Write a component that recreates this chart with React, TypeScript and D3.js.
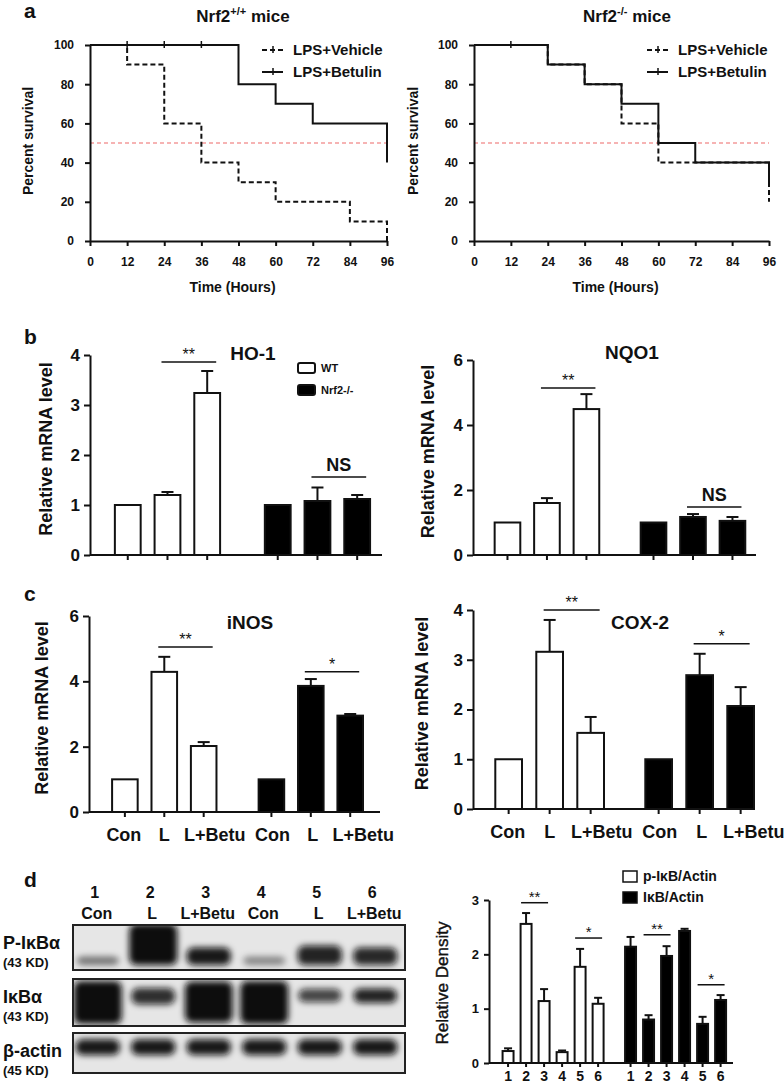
import React, { useEffect, useRef } from 'react';
import * as d3 from 'd3';

const FONT = 'Arial, "Liberation Sans", Helvetica, sans-serif';

// ---- panel a: Kaplan-Meier steps [hour, % survival]
const wtVehicle = [[0, 100], [12, 90], [24, 60], [36, 40], [48, 30], [60, 20], [84, 10], [96, 10], [96, 0]];
const wtBetulin = [[0, 100], [48, 80], [60, 70], [72, 60], [96, 60], [96, 40]];
const koVehicle = [[0, 100], [24, 90], [36, 80], [48, 60], [60, 40], [96, 40], [96, 20]];
const koBetulin = [[0, 100], [24, 90], [36, 80], [48, 70], [60, 50], [72, 40], [96, 40], [96, 28]];
const wtCensor = [12, 24, 36];
const koCensor = [12];
const hourTicks = [0, 12, 24, 36, 48, 60, 72, 84, 96];
const survivalTicks = [0, 20, 40, 60, 80, 100];

// ---- panels b, c: relative mRNA level
const genotypes = ['WT', 'Nrf2-/-'];
const conditions = ['Con', 'L', 'L+Betu'];

const hoWT = [1.0, 1.2, 3.24];
const hoWTErr = [0, 0.06, 0.44];
const hoKO = [1.0, 1.08, 1.12];
const hoKOErr = [0, 0.27, 0.08];

const nqWT = [1.0, 1.6, 4.49];
const nqWTErr = [0, 0.15, 0.46];
const nqKO = [1.0, 1.17, 1.05];
const nqKOErr = [0, 0.09, 0.12];

const inosWT = [1.0, 4.29, 2.02];
const inosWTErr = [0, 0.46, 0.12];
const inosKO = [1.0, 3.86, 2.95];
const inosKOErr = [0, 0.21, 0.05];

const coxWT = [1.0, 3.16, 1.53];
const coxWTErr = [0, 0.64, 0.32];
const coxKO = [1.0, 2.69, 2.07];
const coxKOErr = [0, 0.43, 0.38];

const hoSig = [
  { g: 0, from: 1, to: 2, level: 3.86, label: '**' },
  { g: 1, from: 1, to: 2, level: 1.56, label: 'NS' },
];
const nqSig = [
  { g: 0, from: 1, to: 2, level: 5.14, label: '**' },
  { g: 1, from: 1, to: 2, level: 1.48, label: 'NS' },
];
const inosSig = [
  { g: 0, from: 1, to: 2, level: 5.05, label: '**' },
  { g: 1, from: 1, to: 2, level: 4.29, label: '*' },
];
const coxSig = [
  { g: 0, from: 1, to: 2, level: 4.0, label: '**' },
  { g: 1, from: 1, to: 2, level: 3.32, label: '*' },
];

// ---- panel d: western blot + densitometry
const lanes = ['1', '2', '3', '4', '5', '6'];
const laneNames = ['Con', 'L', 'L+Betu', 'Con', 'L', 'L+Betu'];
const pIkbIntensity = [0.5, 1.0, 0.95, 0.42, 0.9, 0.88];
const pIkbSpread = [0.1, 1.0, 0.35, 0.1, 0.4, 0.35];
const ikbIntensity = [1.0, 0.85, 1.0, 1.0, 0.75, 0.9];
const ikbSpread = [1.0, 0.3, 0.95, 1.0, 0.22, 0.25];
const actinIntensity = [0.95, 0.95, 0.95, 0.95, 0.95, 0.95];
const actinSpread = [0.35, 0.35, 0.35, 0.35, 0.35, 0.35];

const densGroups = ['p-IκB/Actin', 'IκB/Actin'];
const pIkbDensity = [0.22, 2.56, 1.14, 0.2, 1.77, 1.09];
const pIkbDensityErr = [0.05, 0.2, 0.22, 0.03, 0.33, 0.11];
const ikbDensity = [2.14, 0.8, 1.97, 2.43, 0.72, 1.16];
const ikbDensityErr = [0.18, 0.08, 0.18, 0.04, 0.13, 0.09];
const densSig = [
  { g: 0, from: 1, to: 2, level: 2.95, label: '**' },
  { g: 0, from: 4, to: 5, level: 2.3, label: '*' },
  { g: 1, from: 1, to: 2, level: 2.36, label: '**' },
  { g: 1, from: 4, to: 5, level: 1.44, label: '*' },
];

const styleAxis = (g, size) => {
  g.attr('font-family', FONT).attr('font-size', size).attr('font-weight', 'bold');
  g.select('.domain').attr('stroke', '#111').attr('stroke-width', 2);
  g.selectAll('.tick line').attr('stroke', '#111').attr('stroke-width', 2);
  g.selectAll('.tick text').attr('fill', '#111');
};

function drawSurvival(svg, p) {
  const x = d3.scaleLinear().domain([0, 96]).range([p.left, p.right]);
  const y = d3.scaleLinear().domain([0, 100]).range([p.bottom, p.top]);
  const g = svg.append('g');

  g.append('line')
    .attr('x1', x(0)).attr('x2', x(96))
    .attr('y1', y(50)).attr('y2', y(50))
    .attr('stroke', '#f39a9a').attr('stroke-width', 1.5)
    .attr('stroke-dasharray', '4,3');

  const line = d3.line().x(d => x(d[0])).y(d => y(d[1])).curve(d3.curveStepAfter);
  g.append('path').datum(p.betulin).attr('d', line)
    .attr('fill', 'none').attr('stroke', '#111').attr('stroke-width', 2);
  g.append('path').datum(p.vehicle).attr('d', line)
    .attr('fill', 'none').attr('stroke', '#111').attr('stroke-width', 2)
    .attr('stroke-dasharray', '5,3');

  g.selectAll('line.censor').data(p.censor).enter().append('line')
    .attr('x1', d => x(d)).attr('x2', d => x(d))
    .attr('y1', y(100) - 4).attr('y2', y(100) + 3)
    .attr('stroke', '#111').attr('stroke-width', 1.5);

  const ax = g.append('g').attr('transform', `translate(0,${p.bottom})`)
    .call(d3.axisBottom(x).tickValues(hourTicks).tickSize(5).tickSizeOuter(0).tickPadding(11));
  styleAxis(ax, 12);
  const ay = g.append('g').attr('transform', `translate(${p.left},0)`)
    .call(d3.axisLeft(y).tickValues(survivalTicks).tickSize(5).tickSizeOuter(0).tickPadding(11));
  styleAxis(ay, 12);

  g.append('text')
    .attr('x', (p.left + p.right) / 2 - 6).attr('y', p.bottom + 51)
    .attr('text-anchor', 'middle').attr('font-size', 14)
    .text('Time (Hours)');

  g.append('text')
    .attr('transform', `translate(${p.yLabelX},${(p.top + p.bottom) / 2 - 2}) rotate(-90)`)
    .attr('text-anchor', 'middle').attr('font-size', 14)
    .text('Percent survival');

  const title = g.append('text')
    .attr('x', p.titleX).attr('y', 22)
    .attr('text-anchor', 'middle').attr('font-size', 17);
  title.append('tspan').text('Nrf2');
  title.append('tspan').attr('dy', -7).attr('font-size', 11).text(p.sup);
  title.append('tspan').attr('dy', 7).text(' mice');

  // legend
  const items = [
    { label: 'LPS+Vehicle', dash: '5,3' },
    { label: 'LPS+Betulin', dash: null },
  ];
  items.forEach((it, i) => {
    const ly = 50 + i * 22;
    const lg = g.append('g');
    lg.append('line')
      .attr('x1', p.legendX).attr('x2', p.legendX + 21)
      .attr('y1', ly).attr('y2', ly)
      .attr('stroke', '#111').attr('stroke-width', 2)
      .attr('stroke-dasharray', it.dash);
    lg.append('line')
      .attr('x1', p.legendX + 11).attr('x2', p.legendX + 11)
      .attr('y1', ly - 4).attr('y2', ly + 3)
      .attr('stroke', '#111').attr('stroke-width', 1.5);
    lg.append('text')
      .attr('x', p.legendX + 31).attr('y', ly + 5)
      .attr('font-size', 15).text(it.label);
  });
}

function drawBars(svg, p) {
  const g = svg.append('g');
  const x0 = d3.scaleBand().domain(genotypes).range([p.left, p.right])
    .paddingInner(p.pi).paddingOuter(p.po).align(p.align);
  const x1 = d3.scaleBand().domain(conditions).range([0, x0.bandwidth()])
    .paddingInner(0.3).paddingOuter(0);
  const y = d3.scaleLinear().domain([0, p.max]).range([p.bottom, p.top]);
  const cx = (gi, ci) => x0(genotypes[gi]) + x1(conditions[ci]) + x1.bandwidth() / 2;
  const bw = x1.bandwidth();

  const rows = [];
  [p.wt, p.ko].forEach((vals, gi) => {
    vals.forEach((v, ci) => {
      rows.push({ gi, ci, v, e: (gi === 0 ? p.wtErr : p.koErr)[ci] });
    });
  });

  // error bars (upper only)
  const eb = g.selectAll('g.err').data(rows.filter(d => d.e > 0)).enter().append('g');
  eb.append('line')
    .attr('x1', d => cx(d.gi, d.ci)).attr('x2', d => cx(d.gi, d.ci))
    .attr('y1', d => y(d.v)).attr('y2', d => y(d.v + d.e))
    .attr('stroke', '#111').attr('stroke-width', 2);
  eb.append('line')
    .attr('x1', d => cx(d.gi, d.ci) - 6).attr('x2', d => cx(d.gi, d.ci) + 6)
    .attr('y1', d => y(d.v + d.e)).attr('y2', d => y(d.v + d.e))
    .attr('stroke', '#111').attr('stroke-width', 2);

  g.selectAll('rect.bar').data(rows).enter().append('rect')
    .attr('x', d => cx(d.gi, d.ci) - bw / 2 + 1)
    .attr('width', bw - 2)
    .attr('y', d => y(d.v))
    .attr('height', d => y(0) - y(d.v))
    .attr('fill', d => (d.gi === 0 ? '#fff' : '#000'))
    .attr('stroke', '#111').attr('stroke-width', 2);

  // axes
  const ay = g.append('g').attr('transform', `translate(${p.left},0)`)
    .call(d3.axisLeft(y).tickValues(p.ticks).tickFormat(d3.format('d'))
      .tickSize(6).tickSizeOuter(0).tickPadding(4));
  styleAxis(ay, 17);
  g.append('line')
    .attr('x1', p.left).attr('x2', p.right)
    .attr('y1', y(0)).attr('y2', y(0))
    .attr('stroke', '#111').attr('stroke-width', 2);
  g.selectAll('line.xt').data(rows).enter().append('line')
    .attr('x1', d => cx(d.gi, d.ci)).attr('x2', d => cx(d.gi, d.ci))
    .attr('y1', y(0)).attr('y2', y(0) + 5)
    .attr('stroke', '#111').attr('stroke-width', 2);

  if (p.xLabels) {
    // the long "L+Betu" label sits a little right of its tick, as in the figure
    const nudge = [-1, 0, 11];
    g.selectAll('text.xl').data(rows).enter().append('text')
      .attr('x', d => cx(d.gi, d.ci) + nudge[d.ci] + (d.gi === 1 ? 2 : 0)).attr('y', y(0) + 29)
      .attr('text-anchor', 'middle').attr('font-size', 18)
      .text(d => conditions[d.ci]);
  }

  // significance
  p.sig.forEach(s => {
    const sy = y(s.level);
    const xa = cx(s.g, s.from) - 6;
    const xb = cx(s.g, s.to) + 9;
    g.append('line').attr('x1', xa).attr('x2', xb).attr('y1', sy).attr('y2', sy)
      .attr('stroke', '#111').attr('stroke-width', 1.5);
    const isNS = s.label === 'NS';
    g.append('text')
      .attr('x', (xa + xb) / 2).attr('y', isNS ? sy - 6 : sy - 2)
      .attr('text-anchor', 'middle')
      .attr('font-size', isNS ? 18 : 16)
      .attr('font-weight', isNS ? 'bold' : 'normal')
      .text(s.label);
  });

  g.append('text')
    .attr('x', p.titleX).attr('y', p.titleY)
    .attr('text-anchor', 'middle').attr('font-size', 19)
    .text(p.title);

  g.append('text')
    .attr('transform', `translate(${p.yLabelX},${(p.top + p.bottom) / 2 - 6}) rotate(-90)`)
    .attr('text-anchor', 'middle').attr('font-size', 18)
    .text('Relative mRNA level');

  if (p.legend) {
    genotypes.forEach((name, i) => {
      const ly = 368 + i * 22;
      g.append('rect')
        .attr('x', 298).attr('y', ly - 5).attr('width', 17).attr('height', 10).attr('rx', 2)
        .attr('fill', i === 0 ? '#fff' : '#000').attr('stroke', '#111').attr('stroke-width', 2);
      g.append('text')
        .attr('x', 321).attr('y', ly + 4).attr('font-size', 11)
        .text(name);
    });
  }
}

function drawBlot(svg) {
  const g = svg.append('g');
  const lx = d3.scaleBand().domain(lanes).range([70, 403]);
  const defs = svg.append('defs');
  defs.append('filter').attr('id', 'bandBlur')
    .attr('x', '-50%').attr('y', '-100%').attr('width', '200%').attr('height', '300%')
    .append('feGaussianBlur').attr('stdDeviation', 3);

  g.selectAll('text.lnum').data(lanes).enter().append('text')
    .attr('x', d => lx(d) + lx.bandwidth() / 2 - 3).attr('y', 898)
    .attr('text-anchor', 'middle').attr('font-size', 16).text(d => d);
  g.selectAll('text.lname').data(laneNames).enter().append('text')
    .attr('x', (d, i) => lx(lanes[i]) + lx.bandwidth() / 2 - 1).attr('y', 919)
    .attr('text-anchor', 'middle').attr('font-size', 16).text(d => d);

  const blots = [
    { id: 'b1', top: 925, bottom: 970, intensity: pIkbIntensity, spread: pIkbSpread, anchor: 'bottom', name: 'P-IκBα', kd: '(43 KD)' },
    { id: 'b2', top: 979, bottom: 1026, intensity: ikbIntensity, spread: ikbSpread, anchor: 'mid', name: 'IκBα', kd: '(43 KD)' },
    { id: 'b3', top: 1033, bottom: 1073, intensity: actinIntensity, spread: actinSpread, anchor: 'mid', name: 'β-actin', kd: '(45 KD)' },
  ];

  blots.forEach(b => {
    const h = b.bottom - b.top;
    const bandH = i => 5 + b.spread[i] * (h - 9);
    defs.append('clipPath').attr('id', `clip-${b.id}`)
      .append('rect').attr('x', 73).attr('y', b.top).attr('width', 332).attr('height', h);
    g.append('rect').attr('x', 73).attr('y', b.top).attr('width', 332).attr('height', h)
      .attr('fill', '#e6e6e6');
    const bands = g.append('g').attr('clip-path', `url(#clip-${b.id})`)
      .append('g').attr('filter', 'url(#bandBlur)');
    bands.selectAll('rect').data(lanes).enter().append('rect')
      .attr('x', (d, i) => lx(d) + lx.bandwidth() / 2 - (21 + 3 * b.spread[i]))
      .attr('width', (d, i) => 42 + 6 * b.spread[i])
      .attr('height', (d, i) => bandH(i))
      .attr('y', (d, i) => {
        if (b.anchor === 'bottom') return b.bottom - 5 - bandH(i);
        const mid = (b.top + b.bottom) / 2;
        return mid - bandH(i) / 2 - (1 - b.spread[i]) * 9;
      })
      .attr('rx', 7)
      .attr('fill', '#0a0a0a')
      .attr('fill-opacity', (d, i) => b.intensity[i]);
    g.append('rect').attr('x', 73).attr('y', b.top).attr('width', 332).attr('height', h)
      .attr('fill', 'none').attr('stroke', '#222').attr('stroke-width', 2);
    g.append('text').attr('x', 3).attr('y', b.top + 24).attr('font-size', 18).text(b.name);
    g.append('text').attr('x', 3).attr('y', b.top + 42).attr('font-size', 13).text(b.kd);
  });
}

function drawDensity(svg) {
  const g = svg.append('g');
  const left = 489;
  const right = 733;
  const x0 = d3.scaleBand().domain(densGroups).range([left, right])
    .paddingInner(0.159).paddingOuter(0.0755).align(0.68);
  const x1 = d3.scaleBand().domain(lanes).range([0, x0.bandwidth()])
    .paddingInner(0.28).paddingOuter(0);
  const y = d3.scaleLinear().domain([0, 3]).range([1063, 900]);
  const cx = (gi, li) => x0(densGroups[gi]) + x1(lanes[li]) + x1.bandwidth() / 2;
  const bw = x1.bandwidth();

  const rows = [];
  [pIkbDensity, ikbDensity].forEach((vals, gi) => {
    vals.forEach((v, li) => rows.push({ gi, li, v, e: (gi === 0 ? pIkbDensityErr : ikbDensityErr)[li] }));
  });

  const eb = g.selectAll('g.err').data(rows).enter().append('g');
  eb.append('line')
    .attr('x1', d => cx(d.gi, d.li)).attr('x2', d => cx(d.gi, d.li))
    .attr('y1', d => y(d.v)).attr('y2', d => y(d.v + d.e))
    .attr('stroke', '#111').attr('stroke-width', 2);
  eb.append('line')
    .attr('x1', d => cx(d.gi, d.li) - 4).attr('x2', d => cx(d.gi, d.li) + 4)
    .attr('y1', d => y(d.v + d.e)).attr('y2', d => y(d.v + d.e))
    .attr('stroke', '#111').attr('stroke-width', 2);

  g.selectAll('rect.bar').data(rows).enter().append('rect')
    .attr('x', d => cx(d.gi, d.li) - bw / 2 + 1)
    .attr('width', bw - 2)
    .attr('y', d => y(d.v))
    .attr('height', d => y(0) - y(d.v))
    .attr('fill', d => (d.gi === 0 ? '#fff' : '#000'))
    .attr('stroke', '#111').attr('stroke-width', 2);

  const ay = g.append('g').attr('transform', `translate(${left},0)`)
    .call(d3.axisLeft(y).tickValues([0, 1, 2, 3]).tickFormat(d3.format('d'))
      .tickSize(5).tickSizeOuter(0).tickPadding(5));
  styleAxis(ay, 13);
  g.append('line').attr('x1', left).attr('x2', right).attr('y1', y(0)).attr('y2', y(0))
    .attr('stroke', '#111').attr('stroke-width', 2);
  g.selectAll('line.xt').data(rows).enter().append('line')
    .attr('x1', d => cx(d.gi, d.li)).attr('x2', d => cx(d.gi, d.li))
    .attr('y1', y(0)).attr('y2', y(0) + 4)
    .attr('stroke', '#111').attr('stroke-width', 2);
  g.selectAll('text.xl').data(rows).enter().append('text')
    .attr('x', d => cx(d.gi, d.li)).attr('y', 1081)
    .attr('text-anchor', 'middle').attr('font-size', 14)
    .text(d => lanes[d.li]);

  densSig.forEach(s => {
    const sy = y(s.level);
    const xa = cx(s.g, s.from) - 5;
    const xb = cx(s.g, s.to) + 4;
    g.append('line').attr('x1', xa).attr('x2', xb).attr('y1', sy).attr('y2', sy)
      .attr('stroke', '#111').attr('stroke-width', 1.5);
    g.append('text').attr('x', (xa + xb) / 2).attr('y', sy - 1)
      .attr('text-anchor', 'middle').attr('font-size', 15).attr('font-weight', 'normal')
      .text(s.label);
  });

  g.append('text')
    .attr('transform', `translate(448,983) rotate(-90)`)
    .attr('text-anchor', 'middle').attr('font-size', 17).attr('font-weight', 'normal')
    .attr('stroke', '#111').attr('stroke-width', 0.4)
    .text('Relative Density');

  densGroups.forEach((name, i) => {
    const ly = 876 + i * 21;
    g.append('rect').attr('x', 623).attr('y', ly - 5).attr('width', 14).attr('height', 11)
      .attr('fill', i === 0 ? '#fff' : '#000').attr('stroke', '#111').attr('stroke-width', 1.5);
    g.append('text').attr('x', 643).attr('y', ly + 5).attr('font-size', 14).text(name);
  });
}

const App = () => {
  const ref = useRef(null);

  useEffect(() => {
    const svg = d3.select(ref.current);
    svg.selectAll('*').remove();
    svg.attr('font-family', FONT).attr('font-weight', 'bold').attr('fill', '#111');

    drawSurvival(svg, {
      left: 90, right: 387, top: 45, bottom: 241,
      vehicle: wtVehicle, betulin: wtBetulin, censor: wtCensor,
      sup: '+/+', titleX: 243, yLabelX: 33, legendX: 262,
    });
    drawSurvival(svg, {
      left: 474, right: 769, top: 45, bottom: 241,
      vehicle: koVehicle, betulin: koBetulin, censor: koCensor,
      sup: '-/-', titleX: 627, yLabelX: 418, legendX: 647,
    });

    drawBars(svg, {
      left: 90, right: 382, top: 355, bottom: 555, max: 4, ticks: [0, 1, 2, 3, 4],
      pi: 0.285, po: 0.116, align: 0.686,
      wt: hoWT, wtErr: hoWTErr, ko: hoKO, koErr: hoKOErr, sig: hoSig,
      title: 'HO-1', titleX: 253, titleY: 360, yLabelX: 52, legend: true,
    });
    drawBars(svg, {
      left: 473, right: 756, top: 360, bottom: 555, max: 6, ticks: [0, 2, 4, 6],
      pi: 0.27, po: 0.104, align: 0.68,
      wt: nqWT, wtErr: nqWTErr, ko: nqKO, koErr: nqKOErr, sig: nqSig,
      title: 'NQO1', titleX: 632, titleY: 359, yLabelX: 434,
    });
    drawBars(svg, {
      left: 89, right: 380, top: 616, bottom: 812, max: 6, ticks: [0, 2, 4, 6],
      pi: 0.274, po: 0.13, align: 0.58,
      wt: inosWT, wtErr: inosWTErr, ko: inosKO, koErr: inosKOErr, sig: inosSig,
      title: 'iNOS', titleX: 250, titleY: 629, yLabelX: 48, xLabels: true,
    });
    drawBars(svg, {
      left: 473, right: 755, top: 610, bottom: 809, max: 4, ticks: [0, 1, 2, 3, 4],
      pi: 0.262, po: 0.071, align: 1,
      wt: coxWT, wtErr: coxWTErr, ko: coxKO, koErr: coxKOErr, sig: coxSig,
      title: 'COX-2', titleX: 640, titleY: 629, yLabelX: 428, xLabels: true,
    });

    drawBlot(svg);
    drawDensity(svg);

    // panel letters
    const letters = [
      { t: 'a', x: 24, y: 18 },
      { t: 'b', x: 24, y: 344 },
      { t: 'c', x: 24, y: 601 },
      { t: 'd', x: 24, y: 887 },
    ];
    svg.selectAll('text.letter').data(letters).enter().append('text')
      .attr('x', d => d.x).attr('y', d => d.y)
      .attr('font-size', 21).text(d => d.t);
  }, []);

  return (
    <svg
      ref={ref}
      width={784}
      height={1085}
      style={{ position: 'absolute', left: 0, top: 0, background: '#fff' }}
    />
  );
};

export default App;
